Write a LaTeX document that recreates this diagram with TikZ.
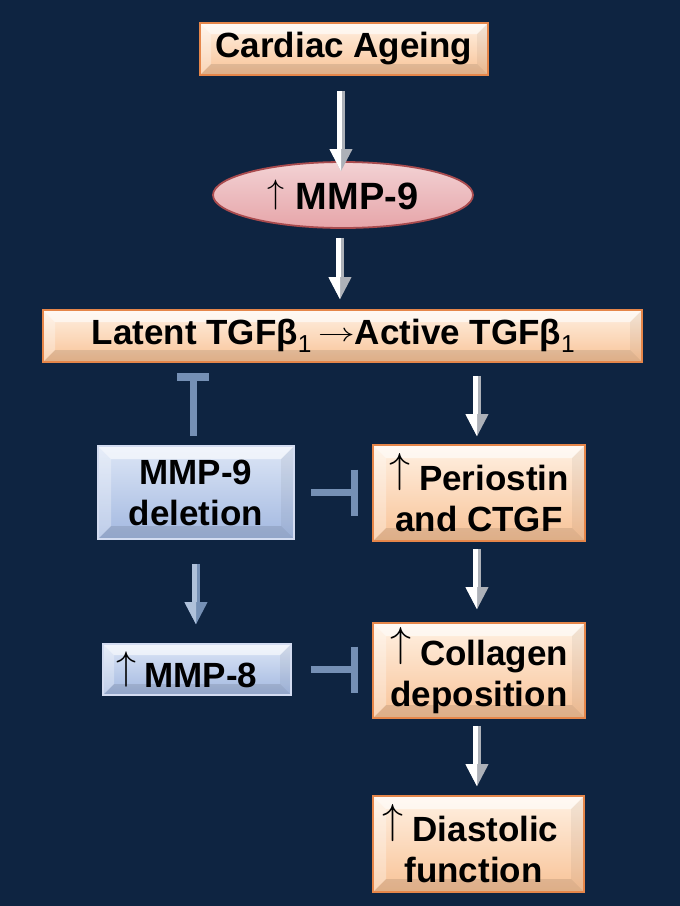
\documentclass[tikz,border=0pt]{standalone}
\usepackage{fontspec}
\setmainfont{Liberation Sans}
\usetikzlibrary{arrows.meta,shapes.geometric,calc}
\definecolor{bg}{HTML}{0E2441}
\definecolor{peach}{HTML}{F8C296}
\definecolor{peachtop}{HTML}{FFF1E3}
\definecolor{peachline}{HTML}{E5864A}
\definecolor{bluebot}{HTML}{A2B8E0}
\definecolor{bluetop}{HTML}{DDE6F6}
\definecolor{blueline}{HTML}{D3DCF1}
\definecolor{steel}{HTML}{7590B5}
\definecolor{steellight}{HTML}{AFC1DA}
\definecolor{pinkbot}{HTML}{E6A5A9}
\definecolor{pinkline}{HTML}{A94B4E}
\definecolor{arrgray}{HTML}{ADB1B8}
\newcommand\upar[1][4.2]{\raisebox{#1\dimexpr 1.94pt\relax}{\scalebox{#1}{\fontsize{10}{10}\selectfont$\uparrow$}}}
\newcommand\rarr{\raisebox{3.5pt}{\scalebox{3.7}[2.6]{\fontsize{10}{10}\selectfont$\rightarrow$}}}
\newcommand\bevelpic[1]{%
 \fill[white,opacity=.6] (path picture bounding box.north west) -- (path picture bounding box.north east) -- ([xshift=-#1,yshift=-#1]path picture bounding box.north east) -- ([xshift=#1,yshift=-#1]path picture bounding box.north west) -- cycle;
 \fill[white,opacity=.3] (path picture bounding box.north west) -- ([xshift=#1,yshift=-#1]path picture bounding box.north west) -- ([xshift=#1,yshift=#1]path picture bounding box.south west) -- (path picture bounding box.south west) -- cycle;
 \fill[black,opacity=.05] (path picture bounding box.north east) -- ([xshift=-#1,yshift=-#1]path picture bounding box.north east) -- ([xshift=-#1,yshift=#1]path picture bounding box.south east) -- (path picture bounding box.south east) -- cycle;
 \fill[black,opacity=.1] (path picture bounding box.south west) -- ([xshift=#1,yshift=#1]path picture bounding box.south west) -- ([xshift=-#1,yshift=#1]path picture bounding box.south east) -- (path picture bounding box.south east) -- cycle;
}
\newcommand\blockarrow[4]{%
 \draw[line width=8pt,#3,-{Triangle[width=23pt,length=22pt,line width=0pt]}] (#1) -- (#2);
 \draw[line width=3.5pt,#4,shorten >=21pt,transform canvas={xshift=-2pt}] (#1) -- (#2);
 \draw[line width=0.1pt,#4,-{Triangle[width=23pt,length=22pt,line width=0pt,right]}] (#1) -- (#2);
}
\tikzset{
 txt/.style={font=\fontsize{35}{41}\selectfont\bfseries,text=black,align=center,inner sep=0pt},
 obox/.style={txt,draw=peachline,line width=1.6pt,top color=peachtop,bottom color=peach,path picture={\bevelpic{#1}}},
 bbox/.style={txt,draw=blueline,line width=1.6pt,top color=bluetop,bottom color=bluebot,path picture={\bevelpic{#1}}},
 inh/.style={draw=steel,line width=7pt},
}
\begin{document}
\begin{tikzpicture}[x=1pt,y=1pt]
\fill[bg] (0,0) rectangle (680,-906);
\useasboundingbox (0,0) rectangle (680,-906);
% nodes
\node[obox=11pt,minimum width=288pt,minimum height=52pt] (ca) at (344,-49) {Cardiac Ageing};
\node[txt,ellipse,draw=pinkline,line width=1.8pt,top color=pinkbot!50!white,middle color=white,bottom color=pinkbot,minimum width=260pt,minimum height=66pt,font=\fontsize{38}{40}\selectfont\bfseries] (mmp9) at (343,-195) {\upar[3.4]\hspace{11pt}MMP-9};
\node[obox=12pt,minimum width=599pt,minimum height=52pt] (tgf) at (342.5,-336) {Latent TGFβ\textsubscript{\fontseries{m}\selectfont 1}\hspace{6pt}\rarr Active TGFβ\textsubscript{\fontseries{m}\selectfont 1}\hspace*{18pt}};
\node[bbox=13pt,minimum width=196pt,minimum height=93pt] (del) at (196,-492.5) {MMP-9\\deletion};
\node[obox=13pt,minimum width=212pt,minimum height=96pt] (per) at (479,-493) {\upar\hspace{9pt}Periostin\\and CTGF};
\node[bbox=11pt,minimum width=188pt,minimum height=51pt] (m8) at (197,-669.5) {\upar[4]\hspace{8pt}MMP-8\hspace*{20pt}};
\node[obox=13pt,minimum width=212pt,minimum height=95pt] (col) at (479,-670.5) {\upar\hspace{9pt}Collagen\\deposition};
\node[obox=13pt,minimum width=211pt,minimum height=96pt] (dia) at (478.5,-844) {\upar\hspace{9pt}Diastolic\hspace*{16pt}\\function\hspace*{10pt}};
% arrow end points
\coordinate (a1s) at ([xshift=-3pt,yshift=-15pt]ca.south);
\coordinate (a1e) at ($(a1s |- mmp9.north)+(0,-10pt)$);
\coordinate (a2s) at ([xshift=-3pt,yshift=-9pt]mmp9.south);
\coordinate (a2e) at ($(a2s |- tgf.north)+(0,10pt)$);
\coordinate (a3s) at ($(per.north |- tgf.south)+(-2pt,-13pt)$);
\coordinate (a3e) at ([xshift=-2pt,yshift=8pt]per.north);
\coordinate (a4s) at ([xshift=-2pt,yshift=-7pt]per.south);
\coordinate (a4e) at ([xshift=-2pt,yshift=13pt]col.north);
\coordinate (a5s) at ([xshift=-2pt,yshift=-7pt]col.south);
\coordinate (a5e) at ($(a5s |- dia.north)+(0,9pt)$);
\coordinate (a6s) at ([yshift=-24pt]del.south);
\coordinate (a6e) at ($(a6s |- m8.north)+(0,19pt)$);
\blockarrow{a1s}{a1e}{arrgray}{white}
\blockarrow{a2s}{a2e}{arrgray}{white}
\blockarrow{a3s}{a3e}{arrgray}{white}
\blockarrow{a4s}{a4e}{arrgray}{white}
\blockarrow{a5s}{a5e}{arrgray}{white}
\blockarrow{a6s}{a6e}{steel}{steellight}
% inhibitions
\coordinate (t1s) at ([xshift=-3pt,yshift=9pt]del.north);
\coordinate (t1e) at ($(t1s |- tgf.south)+(0,-14pt)$);
\draw[inh] (t1s) -- (t1e);
\draw[inh,line width=8pt] ([xshift=-16pt]t1e) -- ([xshift=16pt]t1e);
\coordinate (t2s) at ([xshift=16pt]del.east);
\coordinate (t2e) at ($(per.west |- del.east)+(-17.5pt,0)$);
\draw[inh] (t2s) -- (t2e);
\draw[inh] ([yshift=23pt]t2e) -- ([yshift=-23pt]t2e);
\coordinate (t3s) at ([xshift=19pt]m8.east);
\coordinate (t3e) at ($(col.west |- m8.east)+(-17.5pt,0)$);
\draw[inh] (t3s) -- (t3e);
\draw[inh] ([yshift=23pt]t3e) -- ([yshift=-23pt]t3e);
\end{tikzpicture}
\end{document}
